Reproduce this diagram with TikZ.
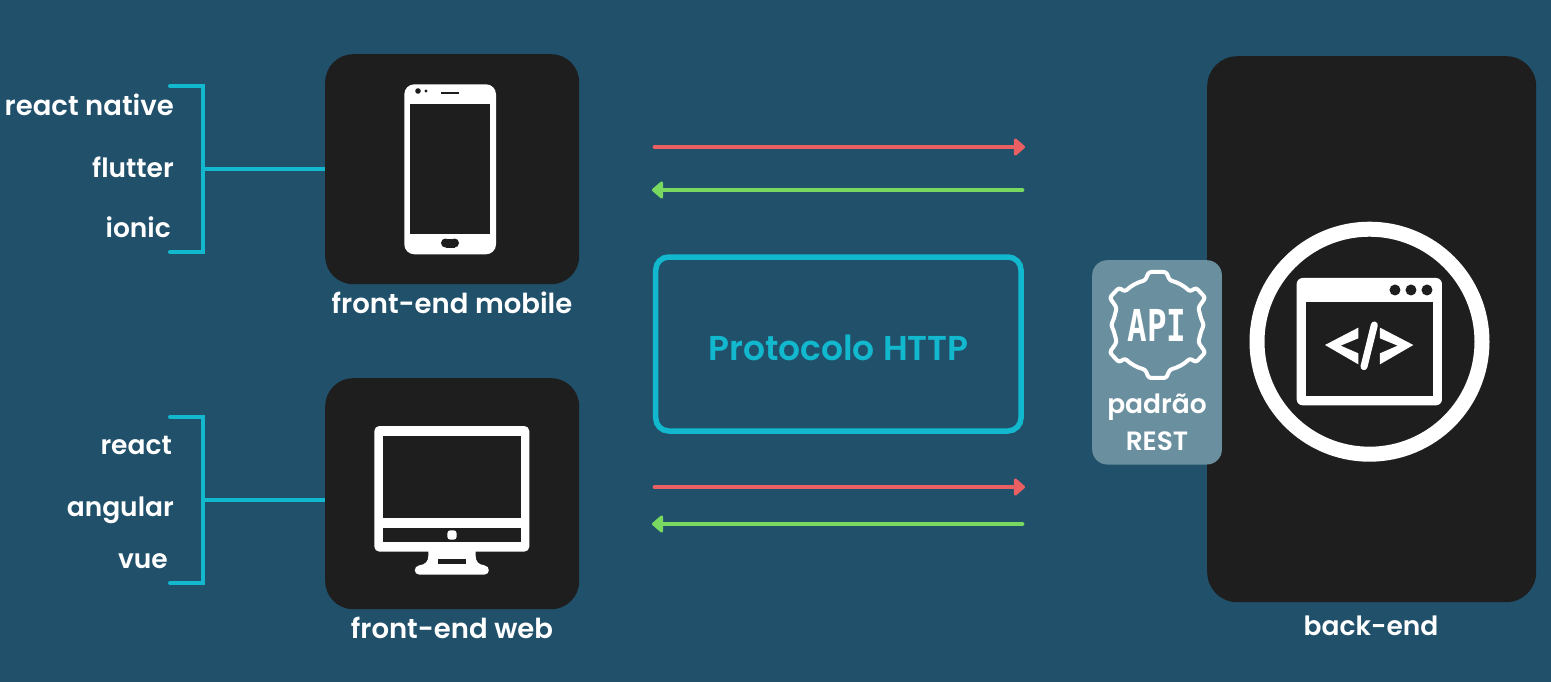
\documentclass[tikz,border=0pt]{standalone}
\usepackage{fontspec}
\setmainfont{Poppins}[UprightFont=* SemiBold]
\newfontfamily\apifont{DejaVu Sans Mono}
\usetikzlibrary{arrows.meta}
\definecolor{bgc}{HTML}{20506A}
\definecolor{panelc}{HTML}{1E1E1E}
\definecolor{cyanc}{HTML}{12B8CE}
\definecolor{redc}{HTML}{EA5F62}
\definecolor{greenc}{HTML}{78D860}
\definecolor{restc}{HTML}{6A909F}
\tikzset{
  panel/.style={draw=none,fill=panelc,rounded corners=28pt,inner sep=0pt,minimum width=#1},
  lab/.style={text=white,font=\fontsize{27.5}{30}\selectfont,inner sep=0pt},
  labsmall/.style={text=white,font=\fontsize{26.5}{30}\selectfont,inner sep=0pt},
  bracketline/.style={draw=cyanc,line width=4pt,line cap=round,line join=miter},
  linkline/.style={draw=cyanc,line width=4pt},
  reqarrow/.style={draw=redc,line width=4.8pt,line cap=round,-{Triangle[length=12pt,width=20pt,round]}},
  resarrow/.style={draw=greenc,line width=4.8pt,line cap=round,-{Triangle[length=12pt,width=20pt,round]}},
}
\begin{document}
\begin{tikzpicture}[x=1pt,y=-1pt]
\useasboundingbox (0,0) rectangle (1551,682);
\fill[bgc] (0,0) rectangle (1551,682);

% panels
\node[panel=254pt,minimum height=230pt,anchor=north west] (mobile) at (325,54) {};
\node[panel=254pt,minimum height=231pt,anchor=north west] (web) at (325,378) {};
\node[panel=329pt,minimum height=546pt,anchor=north west,rounded corners=30pt] (back) at (1207,56) {};

% phone icon
\fill[white,rounded corners=10pt] (404.3,84.3) rectangle (496,254.3);
\fill[panelc] (410.3,104.3) rectangle (490.3,234);
\fill[panelc] (445.5,238.5) rectangle (454.5,247.5);
\fill[panelc] (445.5,243) circle[radius=4.5];
\fill[panelc] (454.5,243) circle[radius=4.5];
\fill[panelc] (418,91) circle[radius=2.8];
\fill[panelc] (426,91) circle[radius=1.6];
\fill[panelc] (441.3,91.7) rectangle (459.3,93.9);

% monitor icon
\begin{scope}[shift={(360,410)},x=.3333pt,y=-.3333pt]
  \fill[white,rounded corners=5pt] (43,48) rectangle (508,425);
  \fill[panelc] (69,78) rectangle (482,323);
  \fill[panelc] (69,353) rectangle (482,397);
  \fill[white,rounded corners=3pt] (262,361) rectangle (290,389);
  \fill[white,line join=round]
    (205,420) -- (205,438) .. controls (205,455) and (195,464) .. (178,466)
    .. controls (160,468) and (160,494) .. (178,494) -- (373,494)
    .. controls (391,494) and (391,468) .. (373,466)
    .. controls (356,464) and (347,455) .. (347,438) -- (347,420) -- cycle;
  \fill[panelc] (234,447) rectangle (318,463);
\end{scope}

% back-end icon
\node[draw=white,line width=15pt,circle,minimum size=225pt,inner sep=0pt,outer sep=0pt] (ring) at (1369.5,341.7) {};
\begin{scope}[shift={(1240,210)},x=.3333pt,y=-.3333pt]
  \fill[white,rounded corners=6pt] (170,204) rectangle (606,586);
  \fill[panelc] (198,275) rectangle (578,558);
  \fill[panelc] (465,240) circle[radius=5.5pt];
  \fill[panelc] (513,240) circle[radius=5.5pt];
  \fill[panelc] (561,240) circle[radius=5.5pt];
  \fill[white] (255,405) -- (355,353) -- (355,385) -- (302,407) -- (355,430) -- (355,463) -- cycle;
  \fill[white] (520,405) -- (420,353) -- (420,385) -- (473,407) -- (420,430) -- (420,463) -- cycle;
  \draw[white,line width=7pt,line cap=round] (403,345) -- (372,470);
\end{scope}

% REST box
\node[fill=restc,rounded corners=15pt,inner sep=0pt,minimum width=129.7pt,minimum height=204.3pt,anchor=north west] (rest) at (1092,260) {};
\begin{scope}[shift={(1100,265)},x=.3333pt,y=-.3333pt]
  \draw[white,line width=4pt,line join=round,rounded corners=2.5pt]
    (146,21) -- (199,21) -- (209,46)
    .. controls (232,52) and (252,62) .. (270,80)
    -- (288,68) -- (316,98) -- (295,128)
    .. controls (298,140) and (302,160) .. (312,180)
    .. controls (302,200) and (298,220) .. (295,232)
    -- (316,262) -- (288,292) -- (270,280)
    .. controls (252,298) and (232,308) .. (209,314)
    -- (199,339) -- (146,339) -- (136,314)
    .. controls (113,308) and (93,298) .. (75,280)
    -- (57,292) -- (29,262) -- (50,232)
    .. controls (47,220) and (43,200) .. (33,180)
    .. controls (43,160) and (47,140) .. (50,128)
    -- (29,98) -- (57,68) -- (75,80)
    .. controls (93,62) and (113,52) .. (136,46) -- cycle;
\end{scope}
\node[text=white,font=\apifont\bfseries\fontsize{44}{44}\selectfont,inner sep=0pt,xscale=.74,transform shape,anchor=base] (api) at (1157,341) {API};
\node[labsmall,anchor=base] (padrao) at (1157,413) {padrão};
\node[labsmall,anchor=base] (resttxt) at (1157,450) {REST};

% panel captions
\node[lab,anchor=base] (mobcap) at (452,313) {front-end mobile};
\node[lab,anchor=base] (webcap) at (452,638) {front-end web};
\node[labsmall,anchor=base] (backcap) at (1371,635) {back-end};

% tech labels
\node[lab,anchor=base east] (rn) at (174,115.7) {react native};
\node[labsmall,anchor=base east] (fl) at (174,177.7) {flutter};
\node[labsmall,anchor=base east] (io) at (171,237.7) {ionic};
\node[labsmall,anchor=base east] (re) at (172,454) {react};
\node[labsmall,anchor=base east] (an) at (174,516) {angular};
\node[labsmall,anchor=base east] (vu) at (168,568) {vue};

% brackets
\coordinate (b1a) at (170,86);
\coordinate (b1b) at (203,86);
\coordinate (b1c) at (203,252);
\coordinate (b1d) at (170,252);
\coordinate (b1m) at (203,169);
\coordinate (b2a) at (170,417);
\coordinate (b2b) at (203,417);
\coordinate (b2c) at (203,583);
\coordinate (b2d) at (170,583);
\coordinate (b2m) at (203,500);
\draw[bracketline] (b1a) -- (b1b) -- (b1c) -- (b1d);
\draw[bracketline] (b2a) -- (b2b) -- (b2c) -- (b2d);
\draw[linkline] (b1m) -- (b1m -| mobile.west);
\draw[linkline] (b2m) -- (b2m -| web.west);

% HTTP box
\node[draw=cyanc,line width=5.5pt,rounded corners=13pt,minimum width=365.3pt,minimum height=174pt,inner sep=0pt,outer sep=0pt,anchor=north west] (http) at (655.7,257) {};
\node[text=cyanc,font=\fontsize{34.5}{38}\selectfont,inner sep=0pt,anchor=base] (httptxt) at (838.5,360) {Protocolo HTTP};

% arrows
\coordinate (r1a) at (655,147);
\coordinate (r1b) at (1025,147);
\coordinate (g1a) at (1022,190);
\coordinate (g1b) at (652,190);
\coordinate (r2a) at (655,487);
\coordinate (r2b) at (1025,487);
\coordinate (g2a) at (1022,524);
\coordinate (g2b) at (652,524);
\draw[reqarrow] (r1a) -- (r1b);
\draw[resarrow] (g1a) -- (g1b);
\draw[reqarrow] (r2a) -- (r2b);
\draw[resarrow] (g2a) -- (g2b);
\end{tikzpicture}
\end{document}
